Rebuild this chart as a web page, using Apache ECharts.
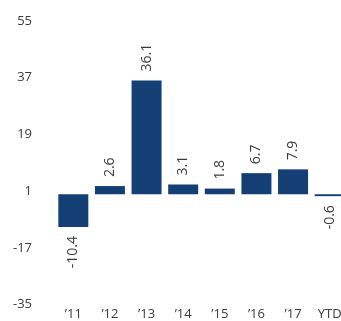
<!DOCTYPE html>
<html>
<head>
<meta charset="utf-8">
<script src="https://cdn.jsdelivr.net/npm/echarts@6/dist/echarts.min.js"></script>
<style>
  html, body { margin: 0; padding: 0; background: #fff; }
  #chart { width: 341px; height: 321px; }
</style>
</head>
<body>
<div id="chart"></div>
<script>
// Annual returns, %
const categories = ['\u201911', '\u201912', '\u201913', '\u201914', '\u201915', '\u201916', '\u201917', 'YTD'];
const returns = [-10.4, 2.6, 36.1, 3.1, 1.8, 6.7, 7.9, -0.6];
const yTicks = [-35, -17, 1, 19, 37, 55];

const textColor = '#3a3a3a';
const barColor = '#133f74';
const fontFamily = '"Open Sans", "Noto Sans", sans-serif';

const chart = echarts.init(document.getElementById('chart'), null, { renderer: 'canvas' });

// Value labels sit above positive bars and below negative ones
const barData = returns.map(v => ({
  value: v,
  label: v >= 0
    ? { position: 'top', align: 'left' }
    : { position: 'bottom', align: 'right' }
}));

chart.setOption({
  animation: false,
  grid: {
    left: 55, top: 21, width: 293, height: 283.5,
    containLabel: false,
    outerBoundsMode: 'none'
  },
  xAxis: {
    type: 'category',
    data: categories,
    axisLine: { show: false },
    axisTick: { show: false },
    axisLabel: { color: textColor, fontSize: 13, fontFamily: fontFamily, margin: 3, interval: 0 }
  },
  yAxis: {
    type: 'value',
    min: -35,
    max: 55,
    splitLine: { show: false },
    axisLine: { show: false },
    axisTick: { show: false },
    axisLabel: {
      customValues: yTicks,
      color: textColor, fontSize: 13, fontFamily: fontFamily, margin: 23
    }
  },
  series: [{
    type: 'bar',
    data: barData,
    barWidth: 30,
    itemStyle: { color: barColor },
    label: {
      show: true,
      rotate: 90,
      verticalAlign: 'middle',
      distance: 9,
      color: textColor,
      fontSize: 14,
      fontFamily: fontFamily,
      formatter: p => p.value.toFixed(1)
    }
  }]
});
</script>
</body>
</html>
